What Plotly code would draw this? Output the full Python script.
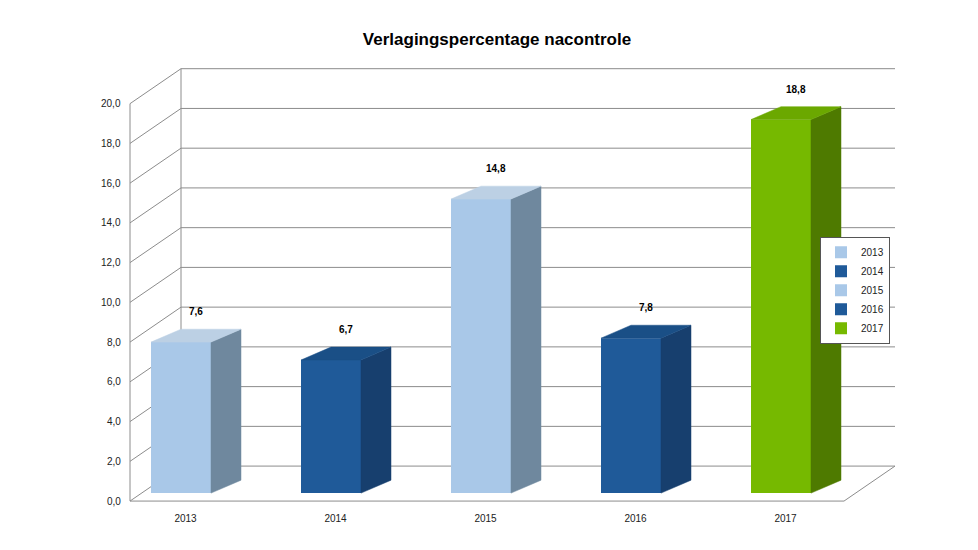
import plotly.graph_objects as go

# data
years = ["2013", "2014", "2015", "2016", "2017"]
values = [7.6, 6.7, 14.8, 7.8, 18.8]
y_ticks = [0, 2, 4, 6, 8, 10, 12, 14, 16, 18, 20]

front = ["#A9C8E8", "#1F5A99", "#A9C8E8", "#1F5A99", "#76B900"]
side = ["#6F889E", "#173F6E", "#6F889E", "#173F6E", "#4E7A00"]
top = ["#BCD0E4", "#1A4F86", "#BCD0E4", "#1A4F86", "#6BA800"]

# pseudo-3D geometry (data units)
w = 0.4
bdx, bdy = 0.2, 0.65      # bar depth
wdx, wdy = 0.34, 1.76     # back-wall offset
lift = 0.4                # bars stand slightly into the floor depth
sx = -0.03                # and slightly to the left
x_front, x_end = -0.37, 4.39
grid = dict(color="#8c8c8c", width=1)

fig = go.Figure()

# gridlines behind the bars
for t in y_ticks:
    fig.add_shape(type="path", layer="below", line=grid,
                  path=f"M {x_front},{t} L {x_front + wdx},{t + wdy} L {x_end + wdx},{t + wdy}")
fig.add_shape(type="line", layer="below", line=grid,
              x0=x_front + wdx, y0=wdy, x1=x_front + wdx, y1=20 + wdy)
fig.add_shape(type="path", layer="below", line=grid,
              path=f"M {x_front},20 L {x_front},0 L {x_end},0 L {x_end + wdx},{wdy}")

for i, (yr, v) in enumerate(zip(years, values)):
    c = i + sx
    x0, x1 = c - w / 2, c + w / 2
    b, h = lift, v + lift
    fig.add_trace(go.Bar(x=[c], y=[v], base=[b], width=w, marker=dict(color=front[i], line=dict(width=0)),
                         name=yr, showlegend=True))
    fig.add_trace(go.Scatter(x=[x1, x1 + bdx, x1 + bdx, x1, x1], y=[b, b + bdy, h + bdy, h, b],
                             fill="toself", fillcolor=side[i], mode="lines",
                             line=dict(color=side[i], width=0.5), showlegend=False, hoverinfo="skip"))
    fig.add_trace(go.Scatter(x=[x0, x1, x1 + bdx, x0 + bdx, x0], y=[h, h, h + bdy, h + bdy, h],
                             fill="toself", fillcolor=top[i], mode="lines",
                             line=dict(color=top[i], width=0.5), showlegend=False, hoverinfo="skip"))
    fig.add_annotation(x=c + bdx / 2, y=h + bdy + 0.5, text=f"<b>{str(v).replace('.', ',')}</b>",
                       showarrow=False, yanchor="bottom", font=dict(size=10, color="#000"))

for t in y_ticks:
    fig.add_annotation(x=x_front - 0.05, y=t, text=f"{t:.1f}".replace(".", ","), showarrow=False,
                       xanchor="right", font=dict(size=10, color="#222"))
fig.add_annotation(x=x_front - 0.25, y=10, text="%", showarrow=False, xanchor="right",
                   font=dict(size=10, color="#222"))

fig.update_layout(
    width=978, height=550, plot_bgcolor="white", paper_bgcolor="white",
    margin=dict(l=110, r=88, t=46, b=47),
    title=dict(text="<b>Verlagingspercentage nacontrole</b>", x=0.5, y=0.955, xanchor="center",
               font=dict(family="Liberation Sans", size=17, color="#000")),
    font=dict(family="Liberation Sans", size=10, color="#222"),
    xaxis=dict(range=[-0.45, 4.75], tickvals=list(range(5)), ticktext=years, showgrid=False,
               zeroline=False, showline=False, ticks=""),
    yaxis=dict(range=[-0.5, 22.5], showgrid=False, zeroline=False, showticklabels=False),
    barmode="overlay",
    legend=dict(x=0.9, y=0.6, xanchor="left", yanchor="top", bordercolor="#555", borderwidth=1,
                font=dict(size=10), itemwidth=30, tracegroupgap=0),
)

fig.write_html("out.html")
